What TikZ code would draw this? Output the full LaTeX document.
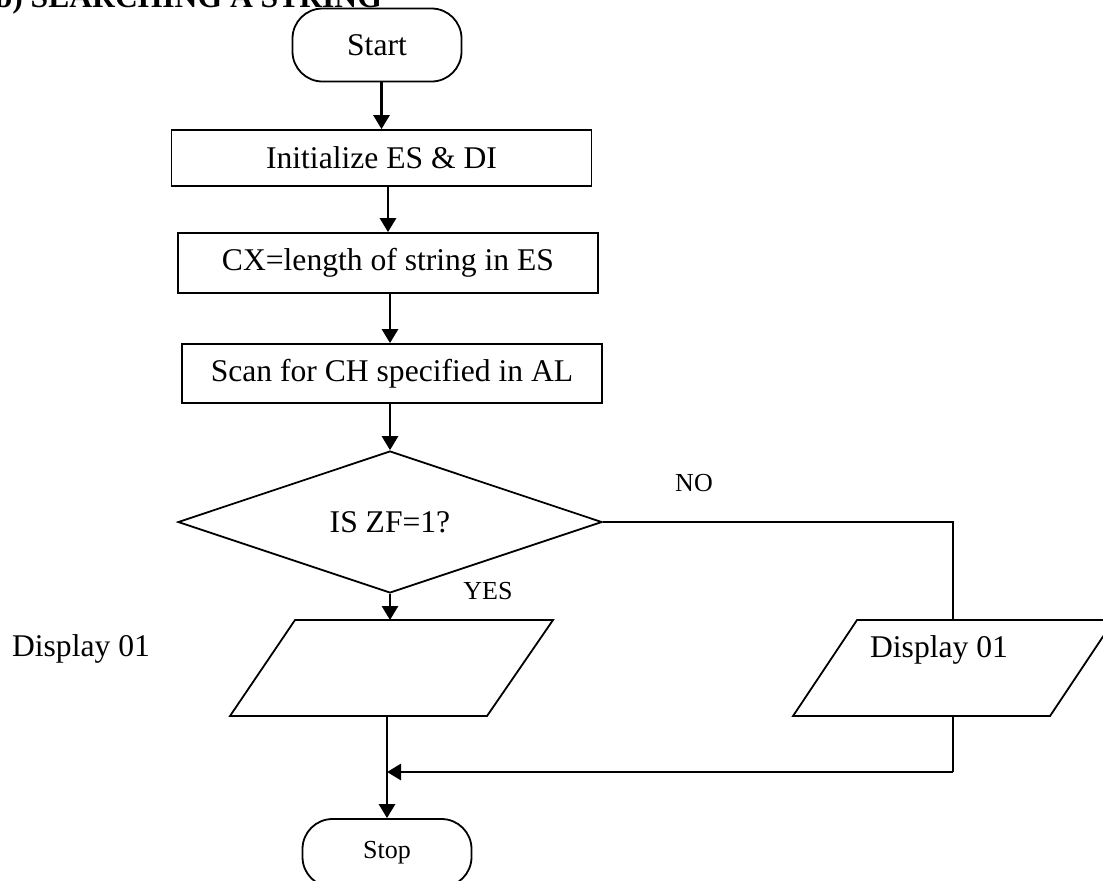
\documentclass[tikz,border=0pt]{standalone}
\usepackage{fontspec}
\setmainfont{Liberation Serif}
\usetikzlibrary{shapes.geometric,arrows.meta,calc}
\begin{document}
\begin{tikzpicture}[x=0.5pt,y=-0.5pt,
  every node/.style={font=\fontsize{15.8}{18}\selectfont},
  term/.style={draw,line width=0.9pt,rounded corners=15pt,minimum width=84.5pt,minimum height=36.5pt,inner sep=0pt},
  procbox/.style={draw,line width=0.9pt,minimum width=210pt,inner sep=0pt},
  decision/.style={draw,line width=0.9pt,diamond,minimum width=212pt,minimum height=47pt,inner sep=0pt},
  io/.style={draw,line width=0.9pt},
  small/.style={font=\fontsize{13}{15}\selectfont},
  arr/.style={line width=1.4pt,-{Triangle[width=8pt,length=7pt]}},
  plain/.style={line width=1pt}]
\useasboundingbox (0,0) rectangle (1103,880);
\node[anchor=base east,font=\fontsize{15.8}{18}\selectfont\bfseries] (title) at (389,7) {b) SEARCHING A STRING};
\node[term] (start) at (377,45) {Start};
\node[procbox,minimum height=28pt] (init) at (381.5,158) {Initialize ES \& DI};
\node[procbox,minimum height=30pt] (cx) at (388,263) {CX=length of string in ES};
\node[procbox,minimum height=29.5pt] (scan) at (392,373.5) {Scan for CH specified in AL};
\node[decision] (dec) at (390,522) {IS ZF=1?};
% input/output parallelograms
\draw[io] (295,620) -- (553,620) -- (487,716) -- (230,716) -- cycle;
\coordinate (d1n) at (390,620);
\coordinate (d1s) at (388,716);
\draw[io] (857,620) -- (1114,620) -- (1050,716) -- (793,716) -- cycle;
\coordinate (d2n) at (953,620);
\coordinate (d2s) at (953,716);
\node (d2t) at (939,650) {Display 01};
\node (lbl) at (81,649) {Display 01};
\node[term,minimum height=34pt] (stop) at (387,853) {\fontsize{13}{15}\selectfont Stop};
\node[small] (no) at (694,483) {NO};
\node[small] (yes) at (488,591) {YES};
\coordinate (merge) at (387,772);
\draw[arr] (start.south -| init.north) -- (init.north);
\draw[arr] (init.south -| cx.north) -- (cx.north);
\draw[arr] (cx.south -| dec.north) -- (dec.north |- scan.north);
\draw[arr] (scan.south -| dec.north) -- (dec.north);
\draw[arr] (dec.south) -- (d1n);
\draw[arr] (d1s -| merge) -- (stop.north -| merge);
\draw[plain] (dec.east) -- (dec.east -| d2n) -- (d2n);
\draw[plain] (d2s) -- (d2s |- merge);
\draw[arr] (d2s |- merge) -- (merge);
\end{tikzpicture}
\end{document}
